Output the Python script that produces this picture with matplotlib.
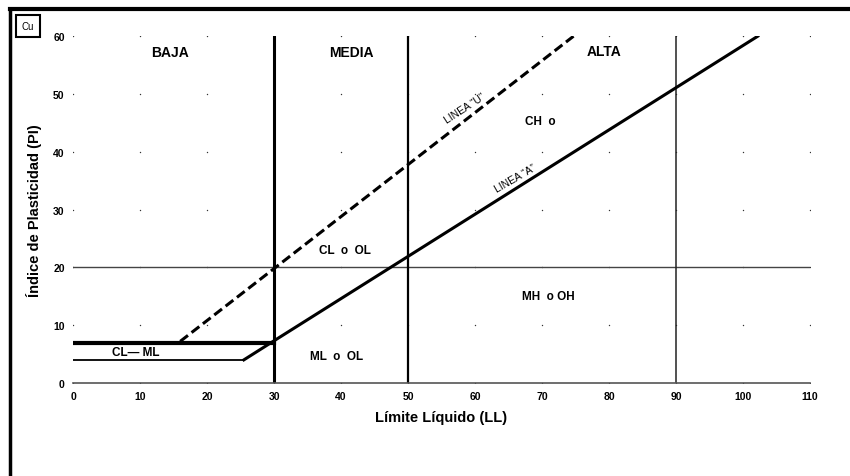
import numpy as np
import matplotlib.pyplot as plt
from matplotlib.lines import Line2D

# line end points (LL, PI)
linea_u_ll = [16, 74.7]
linea_u_pi = [7.2, 60]
linea_a_ll = [25.5, 30, 102.2]
linea_a_pi = [4, 7.3, 60]
cl_ml_top_ll = [0, 30]
cl_ml_top_pi = [7, 7]
cl_ml_bot_ll = [0, 25.5]
cl_ml_bot_pi = [4, 4]
limites_ll = [30, 50, 90]
pi_20 = 20

x_ticks = [0, 10, 20, 30, 40, 50, 60, 70, 80, 90, 100, 110]
y_ticks = [0, 10, 20, 30, 40, 50, 60]

zonas = ["BAJA", "MEDIA", "ALTA"]
zonas_ll = [14.5, 41.6, 79.3]
zonas_pi = [57.3, 57.3, 57.5]

suelos = ["CH  o", "CL  o  OL", "MH  o OH", "ML  o  OL", "CL\u2014 ML"]
suelos_ll = [69.7, 40.6, 71, 39.3, 9.3]
suelos_pi = [45.3, 23, 15, 4.7, 5.4]

plt.rcParams["font.family"] = ["Liberation Sans", "DejaVu Sans"]

fig = plt.figure(figsize=(8.5, 4.77), dpi=100)
ax = fig.add_axes([0.0859, 0.195, 0.8671, 0.727])

ax.set_xlim(0, 110)
ax.set_ylim(0, 60)
ax.set_xticks(x_ticks)
ax.set_yticks(y_ticks)
ax.tick_params(axis="both", labelsize=7.5, length=0, pad=6)
for lab in ax.get_xticklabels() + ax.get_yticklabels():
    lab.set_fontweight("bold")

for s in ["top", "right", "left"]:
    ax.spines[s].set_visible(False)
ax.spines["bottom"].set_color("#555555")
ax.spines["bottom"].set_linewidth(1.2)

# dotted grid at tick crossings
gx, gy = np.meshgrid(x_ticks, y_ticks)
ax.scatter(gx.ravel(), gy.ravel(), s=1.0, color="#333333", lw=0, zorder=1)

ax.axhline(pi_20, color="#444444", lw=1.0)
ax.plot([limites_ll[0]] * 2, [0, 60], color="black", lw=2.2)
ax.plot([limites_ll[1]] * 2, [0, 60], color="black", lw=1.6)
ax.plot([limites_ll[2]] * 2, [0, 60], color="#222222", lw=1.1)

ax.plot(linea_u_ll, linea_u_pi, color="black", lw=2.2, ls=(0, (3.2, 1.5)))
ax.plot(linea_a_ll, linea_a_pi, color="black", lw=2.2)
ax.plot(cl_ml_top_ll, cl_ml_top_pi, color="black", lw=3.0)
ax.plot(cl_ml_bot_ll, cl_ml_bot_pi, color="black", lw=1.3)

for t, x, y in zip(zonas, zonas_ll, zonas_pi):
    ax.text(x, y, t, ha="center", va="center", fontsize=10, fontweight="bold")
for t, x, y in zip(suelos, suelos_ll, suelos_pi):
    ax.text(x, y, t, ha="center", va="center", fontsize=8.5, fontweight="bold")

ax.text(58.5, 47.6, "LINEA \u201cU\u201d", ha="center", va="center", fontsize=7.5,
        rotation=33, rotation_mode="anchor")
ax.text(66, 35.4, "LINEA \u201cA\u201d", ha="center", va="center", fontsize=7.5,
        rotation=30, rotation_mode="anchor")

ax.set_xlabel("Límite Líquido (LL)", fontsize=10.5, fontweight="bold", labelpad=6)
ax.set_ylabel("Índice de Plasticidad (PI)", fontsize=10.5, fontweight="bold", labelpad=8)

# outer frame (top and left edges) and the Cu box
fig.add_artist(Line2D([0.0118, 1.0], [0.979, 0.979], color="black", lw=3))
fig.add_artist(Line2D([0.0118, 0.0118], [0.0, 0.979], color="black", lw=2.5))
fig.text(0.0329, 0.944, "Cu", fontsize=7, ha="center", va="center",
         bbox=dict(boxstyle="square,pad=0.6", fc="white", ec="black", lw=1.5))

fig.savefig("out.png", dpi=100)
